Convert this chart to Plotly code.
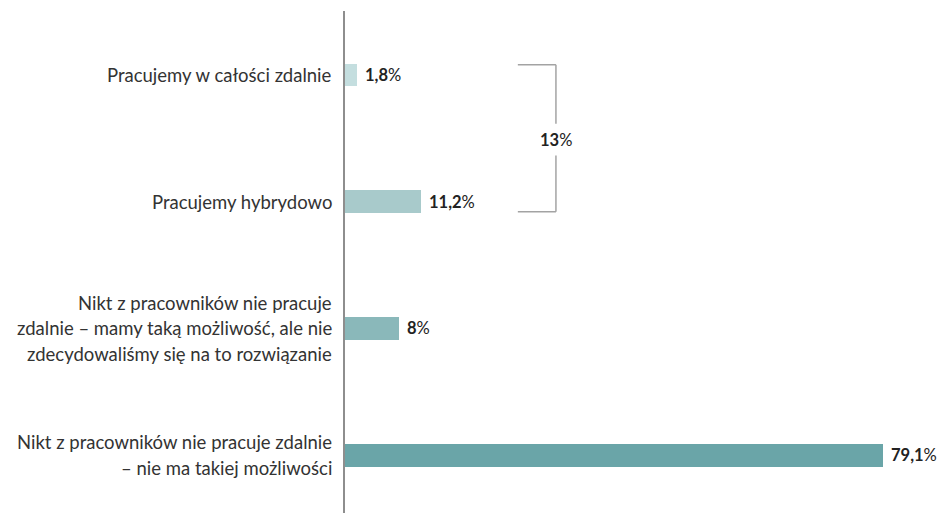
import plotly.graph_objects as go

# Survey answers (top to bottom), each split into display lines
categories = [
    ["Pracujemy w całości zdalnie"],
    ["Pracujemy hybrydowo"],
    ["Nikt z pracowników nie pracuje",
     "zdalnie – mamy taką możliwość, ale nie",
     "zdecydowaliśmy się na to rozwiązanie"],
    ["Nikt z pracowników nie pracuje zdalnie",
     "– nie ma takiej możliwości"],
]
values = [1.8, 11.2, 8.0, 79.1]
bar_colors = ["#c4dedf", "#a8cacb", "#8ab8ba", "#6aa5a8"]
# rows grouped by the bracket on the right
bracket_rows = [0, 1]

FONT = "Lato"
positions = list(range(len(values)))


def fmt(v):
    s = f"{v:.1f}".rstrip("0").rstrip(".")
    return s.replace(".", ",")


fig = go.Figure(
    go.Bar(
        x=values,
        y=positions,
        orientation="h",
        width=0.18,
        marker=dict(color=bar_colors, line=dict(width=0)),
        hoverinfo="skip",
    )
)

annotations = []
# value labels: bold number, regular percent sign
for i, v in enumerate(values):
    annotations.append(dict(
        x=v, y=i, xref="x", yref="y",
        text=f"<b>{fmt(v)}</b>%",
        showarrow=False, xanchor="left", yanchor="middle", xshift=6,
        font=dict(family=FONT, size=16.5, color="#222222"),
    ))

# category labels, one annotation per line so the spacing can be set
LINE_GAP = 25.5
for i, lines in enumerate(categories):
    n = len(lines)
    for k, line in enumerate(lines):
        annotations.append(dict(
            x=0, y=i, xref="paper", yref="y",
            text=line, showarrow=False,
            xanchor="right", yanchor="middle", xshift=-11,
            yshift=((n - 1) / 2 - k) * LINE_GAP,
            font=dict(family=FONT, size=18.5, color="#333333"),
        ))

# bracket summarising the remote/hybrid rows
total = sum(values[r] for r in bracket_rows)
top = min(bracket_rows) - 0.08
bottom = max(bracket_rows) + 0.08
x_in = 25.4
x_out = 31.0
mid = (top + bottom) / 2 + 0.01
gap = 0.125
line_style = dict(color="#a3a3a3", width=1.5)
shapes = [
    dict(type="line", xref="x", yref="y", x0=x_in, x1=x_out, y0=top, y1=top, line=line_style),
    dict(type="line", xref="x", yref="y", x0=x_out, x1=x_out, y0=top, y1=mid - gap, line=line_style),
    dict(type="line", xref="x", yref="y", x0=x_out, x1=x_out, y0=mid + gap, y1=bottom, line=line_style),
    dict(type="line", xref="x", yref="y", x0=x_out, x1=x_in, y0=bottom, y1=bottom, line=line_style),
]
annotations.append(dict(
    x=x_out, y=mid, xref="x", yref="y",
    text=f"<b>{fmt(total)}</b>%", showarrow=False,
    xanchor="center", yanchor="middle",
    font=dict(family=FONT, size=16.5, color="#222222"),
))

fig.update_layout(
    width=937, height=513,
    margin=dict(l=345, r=0, t=11, b=0),
    paper_bgcolor="white", plot_bgcolor="white",
    showlegend=False,
    bargap=0,
    xaxis=dict(range=[0, 87], visible=False, fixedrange=True),
    yaxis=dict(
        range=[3.457, -0.505],
        showticklabels=False, showgrid=False, zeroline=False,
        showline=True, linecolor="#8e8e8e", linewidth=2,
        ticks="", fixedrange=True,
    ),
    shapes=shapes,
    annotations=annotations,
)

fig.write_html("out.html")
